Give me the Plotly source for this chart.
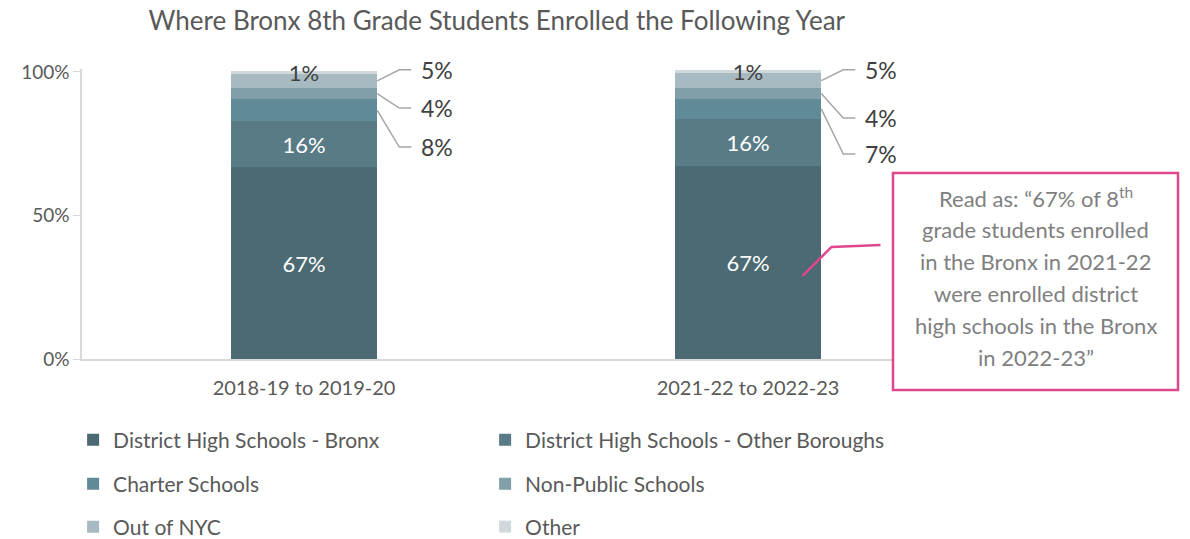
import plotly.graph_objects as go

# ---------------- data ----------------
categories = ["2018-19 to 2019-20", "2021-22 to 2022-23"]
series_names = [
    "District High Schools - Bronx",
    "District High Schools - Other Boroughs",
    "Charter Schools",
    "Non-Public Schools",
    "Out of NYC",
    "Other",
]
bronx = [66.7, 67.2]
other_boroughs = [16.1, 16.3]
charter = [7.6, 7.2]
non_public = [4.1, 3.6]
out_of_nyc = [4.7, 5.3]
other = [1.0, 0.9]
series_values = [bronx, other_boroughs, charter, non_public, out_of_nyc, other]

colors = ["#4b6a73", "#587b86", "#618a98", "#819fa9", "#a8bac1", "#cfd9dc"]
title_text = "Where Bronx 8th Grade Students Enrolled the Following Year"
callout_lines = [
    "Read as: \u201c67% of 8<sup>th</sup>",
    "grade students enrolled",
    "in the Bronx in 2021-22",
    "were enrolled district",
    "high schools in the Bronx",
    "in 2022-23\u201d",
]

FONT = "Lato"
DARK = "#595959"
BAR_W = 0.33
X_PER_PX = 1 / 444.0
Y_PER_PX = 1 / 2.871

fig = go.Figure()
xs = list(range(len(categories)))

inside_series = {0: "white", 1: "white", 5: "#404040"}
outside_series = [4, 3, 2]  # top to bottom: Out of NYC, Non-Public, Charter
legend_of = ["legend", "legend", "legend2", "legend2", "legend3", "legend3"]

for i, (name, vals) in enumerate(zip(series_names, series_values)):
    kw = {}
    if i in inside_series:
        kw = dict(
            text=[f"{round(v)}%" for v in vals], textposition="inside",
            insidetextanchor="middle", textangle=0, constraintext="none",
            cliponaxis=False,
            textfont=dict(family=FONT, size=22, color=inside_series[i]),
        )
    fig.add_trace(go.Bar(
        x=xs, y=vals, name=name, width=BAR_W,
        marker=dict(color=colors[i], line=dict(width=0)),
        legend=legend_of[i], hoverinfo="name+y", **kw,
    ))

# outside labels with leader lines (label vertical positions, in data units)
label_y = [[100.7, 87.4, 73.8], [100.7, 83.9, 71.4]]
shapes = []
annotations = []
for b in xs:
    cum = 0
    bounds = []
    for vals in series_values:
        bounds.append((cum, cum + vals[b]))
        cum += vals[b]
    edge = b + BAR_W / 2
    for k, si in enumerate(outside_series):
        lo, hi = bounds[si]
        mid = (lo + hi) / 2
        ly = label_y[b][k]
        x_elbow = edge + 22 * X_PER_PX
        x_end = edge + 34 * X_PER_PX
        shapes.append(dict(
            type="path", xref="x", yref="y",
            path=f"M {edge} {mid} L {x_elbow} {ly} L {x_end} {ly}",
            line=dict(color="#a6a6a6", width=1.5), layer="above",
        ))
        annotations.append(dict(
            x=edge + 42 * X_PER_PX, y=ly, xref="x", yref="y",
            text=f"{round(series_values[si][b])}%", showarrow=False,
            xanchor="left", yanchor="middle",
            font=dict(family=FONT, size=23, color="#404040"),
        ))

# layout geometry (pixels)
PL, PB, PH, PW = 82, 359, 290, 888
def px_to_paper_x(px):
    return (px - PL) / PW
def px_to_paper_y(py):
    return (PB - py) / PH

# callout box
box = dict(x0=893, x1=1178, y0=390, y1=173)
shapes.append(dict(
    type="rect", xref="paper", yref="paper",
    x0=px_to_paper_x(box["x0"]), x1=px_to_paper_x(box["x1"]),
    y0=px_to_paper_y(box["y0"]), y1=px_to_paper_y(box["y1"]),
    line=dict(color="#e0468e", width=2.5), fillcolor="white", layer="above",
))
cx = px_to_paper_x((box["x0"] + box["x1"]) / 2)
for j, line in enumerate(callout_lines):
    annotations.append(dict(
        x=cx, y=px_to_paper_y(197 + 32 * j), xref="paper", yref="paper",
        text=line, showarrow=False, xanchor="center", yanchor="middle",
        font=dict(family=FONT, size=22, color="#7f7f7f"),
    ))
# pink connector from bar to callout
c0 = (803, 276); c1 = (832, 247); c2 = (881, 245)
def px_to_data(p):
    return ((p[0] - 304.5) * X_PER_PX, (PB - p[1]) * Y_PER_PX)
p0, p1, p2 = px_to_data(c0), px_to_data(c1), px_to_data(c2)
shapes.append(dict(
    type="path", xref="x", yref="y",
    path=f"M {p0[0]} {p0[1]} L {p1[0]} {p1[1]} L {p2[0]} {p2[1]}",
    line=dict(color="#e0468e", width=2.5), layer="above",
))

legend_common = dict(
    orientation="h", entrywidth=367, entrywidthmode="pixels",
    font=dict(family=FONT, size=21, color=DARK),
    bgcolor="rgba(0,0,0,0)", traceorder="normal",
    xanchor="left", yanchor="middle", x=-0.01,
    itemclick=False, itemdoubleclick=False,
)

fig.update_layout(
    width=1190, height=539,
    margin=dict(l=PL, r=1190 - PL - PW, t=PB - PH, b=539 - PB, autoexpand=False),
    paper_bgcolor="white", plot_bgcolor="white",
    barmode="stack",
    title=dict(text=title_text, x=0.4175, xanchor="center", y=0.962, yanchor="middle",
               font=dict(family=FONT, size=26, color=DARK)),
    xaxis=dict(range=[-0.5, 1.5], tickmode="array", tickvals=xs, ticktext=categories,
               showline=True, linecolor="#d9d9d9", linewidth=1.5, showgrid=False,
               zeroline=False, ticks="", ticklabelstandoff=10,
               tickfont=dict(family=FONT, size=20, color=DARK)),
    yaxis=dict(range=[0, 101], tickvals=[0, 50, 100], ticktext=["0%", "50%", "100%"],
               showline=True, linecolor="#d9d9d9", linewidth=1.5, showgrid=False,
               zeroline=False, ticks="outside", ticklen=7, tickcolor="#d9d9d9",
               tickfont=dict(family=FONT, size=19, color=DARK)),
    legend=dict(legend_common, y=px_to_paper_y(440)),
    legend2=dict(legend_common, y=px_to_paper_y(484)),
    legend3=dict(legend_common, y=px_to_paper_y(527)),
    shapes=shapes, annotations=annotations,
    showlegend=True,
)

fig.write_html("out.html", config={"displayModeBar": False},
               post_script="document.body.style.margin='0';document.body.style.overflow='hidden';")
